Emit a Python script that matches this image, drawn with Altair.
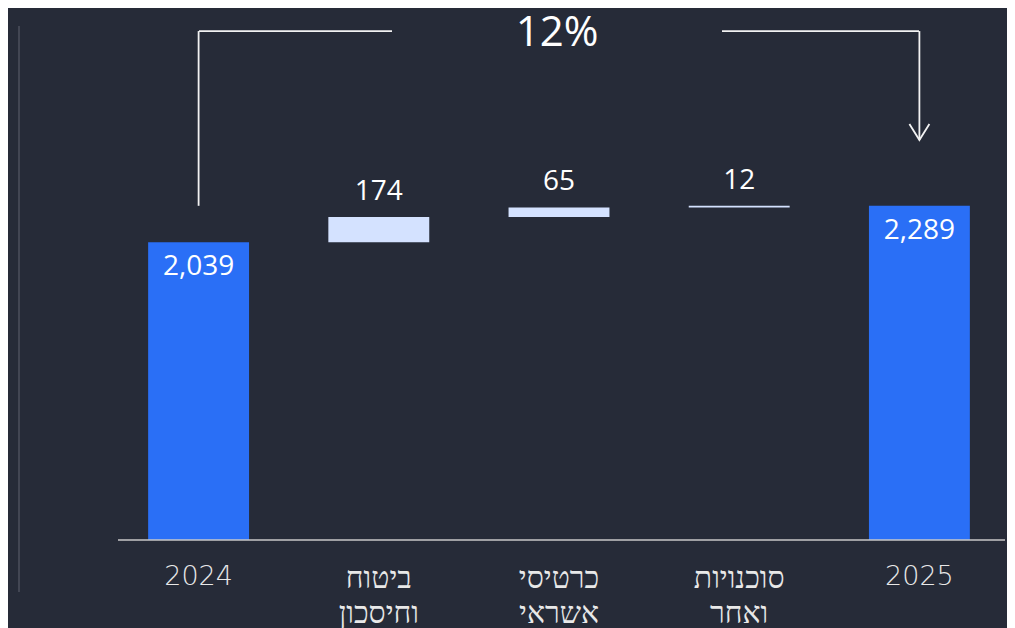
import altair as alt
import pandas as pd

# ---- data ----
categories = ["2024", "ביטוח|וחיסכון", "כרטיסי|אשראי", "סוכנויות|ואחר", "2025"]
values = [2039, 174, 65, 12, 2289]
kinds = ["total", "delta", "delta", "delta", "total"]
change_label = "12%"
bracket_top = 3486      # level of the bracket's horizontal line
arrow_tip = 2740        # level of the arrow tip

# ---- waterfall build ----
starts, ends, labels = [], [], []
running = 0
for v, k in zip(values, kinds):
    if k == "total":
        s, e = 0, v
        running = v
    else:
        s, e = running, running + v
        running += v
    starts.append(s)
    ends.append(e)
    labels.append(f"{v:,}")

df = pd.DataFrame({"cat": categories, "start": starts, "end": ends,
                   "kind": kinds, "label": labels})

BG = "#262b38"
BLUE = "#2a6ff6"
LIGHT = "#d4e2ff"
WHITE = "#f2f2f2"
NUMFONT = "Open Sans"
LBLFONT = "DejaVu Sans"

W, H = 999, 532

xscale = alt.Scale(domain=categories, range=[100.5, 1001.5],
                   paddingInner=0.44, paddingOuter=0.22)
yscale = alt.Scale(domain=[0, 3644], nice=False, zero=True)

xenc = alt.X("cat:N", sort=categories, scale=xscale,
             axis=alt.Axis(title=None, domain=False, ticks=False, labelAngle=0,
                           labelFontSize=alt.condition("indexof(datum.value, '|') >= 0",
                                                       alt.value(30), alt.value(27)),
                           labelColor="#e8e8e8",
                           labelFont=LBLFONT, labelFontWeight=300,
                           labelLineHeight=35, labelPadding=23,
                           labelExpr="split(datum.label, '|')"))

base = alt.Chart(df)

bars = base.mark_bar().encode(
    x=xenc,
    y=alt.Y("start:Q", scale=yscale, axis=None),
    y2="end:Q",
    color=alt.Color("kind:N", scale=alt.Scale(domain=["total", "delta"],
                                              range=[BLUE, LIGHT]), legend=None),
)

tot_text = base.transform_filter(alt.datum.kind == "total").mark_text(
    dy=25, baseline="middle", fontSize=28, font=NUMFONT, color="white"
).encode(x=alt.X("cat:N", sort=categories, scale=xscale),
         y=alt.Y("end:Q", scale=yscale), text="label:N")

delta_text = base.transform_filter(alt.datum.kind == "delta").mark_text(
    dy=-25, baseline="middle", fontSize=28, font=NUMFONT, color="white"
).encode(x=alt.X("cat:N", sort=categories, scale=xscale),
         y=alt.Y("end:Q", scale=yscale), text="label:N")

# bracket annotation
legs = pd.DataFrame({
    "cat": [categories[0], categories[-1]],
    "y1": [ends[-1], bracket_top],
    "y2": [bracket_top, arrow_tip],
})
leg_rules = alt.Chart(legs).mark_rule(color=WHITE, strokeWidth=1.8).encode(
    x=alt.X("cat:N", sort=categories, scale=xscale),
    y=alt.Y("y1:Q", scale=yscale), y2="y2:Q")

one = pd.DataFrame({"a": [0]})
hl = alt.Chart(one).mark_rule(color=WHITE, strokeWidth=1.8).encode(
    x=alt.value(191), x2=alt.value(384),
    y=alt.Y(datum=bracket_top, scale=yscale))
hr = alt.Chart(one).mark_rule(color=WHITE, strokeWidth=1.8).encode(
    x=alt.value(714), x2=alt.value(911),
    y=alt.Y(datum=bracket_top, scale=yscale))

arrow = alt.Chart(pd.DataFrame({"cat": [categories[-1]], "y": [arrow_tip]})).mark_point(
    shape="M-1,-1.6L0,0L1,-1.6", filled=False, size=400, strokeWidth=1.8,
    color=WHITE, opacity=1
).encode(x=alt.X("cat:N", sort=categories, scale=xscale),
         y=alt.Y("y:Q", scale=yscale))

pct = alt.Chart(pd.DataFrame({"t": [change_label]})).mark_text(
    fontSize=42, font=NUMFONT, color="white", baseline="middle"
).encode(x=alt.value(549), y=alt.value(25), text="t:N")

baseline = alt.Chart(one).mark_rule(color="#c8c8c8", strokeWidth=1.5).encode(
    x=alt.value(110), x2=alt.value(997), y=alt.value(532))

leftline = alt.Chart(one).mark_rule(color="#4c515c", strokeWidth=1.5).encode(
    x=alt.value(11), y=alt.value(18), y2=alt.value(584))

chart = alt.layer(
    leftline, bars, baseline, tot_text, delta_text, leg_rules, hl, hr, arrow, pct
).properties(
    width=W, height=H,
    autosize=alt.AutoSizeParams(type="none"),
    padding={"left": 0, "top": 0, "right": 0, "bottom": 88},
    background=BG,
).configure_view(stroke=None)

chart.save("out.html", embed_options={"renderer": "svg", "actions": False})
